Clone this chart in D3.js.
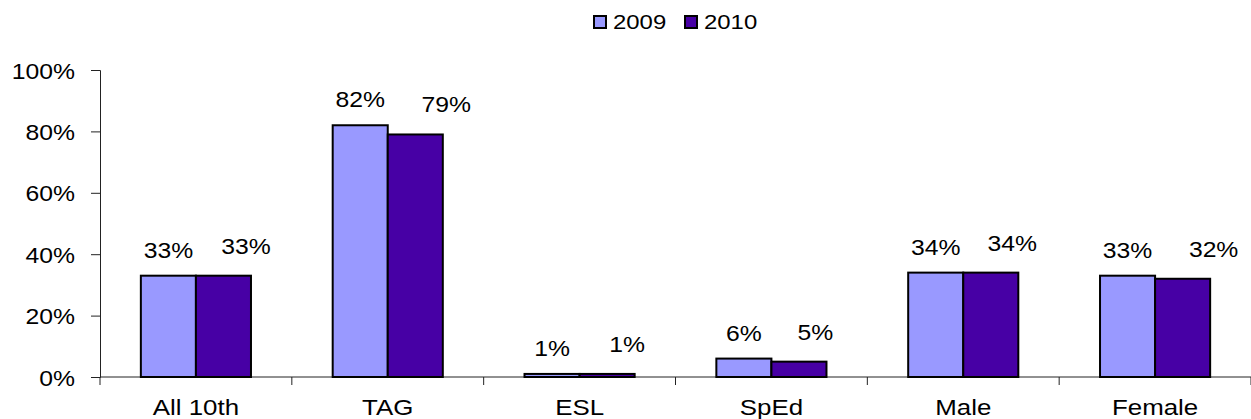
<!DOCTYPE html>
<html>
<head>
<meta charset="utf-8">
<script src="https://cdn.jsdelivr.net/npm/d3@7"></script>
<style>
  body { margin: 0; background: #fff; }
  svg text { font-family: "Liberation Sans", Arial, sans-serif; fill: #000; }
</style>
</head>
<body>
<svg id="chart" width="1251" height="419"></svg>
<script>
var categories = ["All 10th", "TAG", "ESL", "SpEd", "Male", "Female"];
var seriesNames = ["2009", "2010"];
var values2009 = [0.33, 0.82, 0.01, 0.06, 0.34, 0.33];
var values2010 = [0.33, 0.79, 0.01, 0.05, 0.34, 0.32];
var yTicks = [0, 0.2, 0.4, 0.6, 0.8, 1.0];

// hand nudges of the 2010 value labels in the original (px to the right)
var nudge2010 = [22.5, 31, 20, 16.5, 21.5, 31];

var colors = {"2009": "#9999ff", "2010": "#4700a5"};
var sx = 1.15; // the original text is stretched sideways

var svg = d3.select("#chart");

var x0 = d3.scaleBand()
    .domain(categories)
    .range([100, 1251])
    .padding(0);

var x1 = d3.scaleBand()
    .domain(seriesNames)
    .range([0, x0.bandwidth()])
    .paddingInner(0)
    .paddingOuter(0.742);

var y = d3.scaleLinear()
    .domain([0, 1])
    .range([377, 70]);

var rows = categories.map(function(c, i) {
  return {cat: c, i: i, vals: [
    {s: "2009", v: values2009[i]},
    {s: "2010", v: values2010[i]}
  ]};
});

// y axis
var yAxis = d3.axisLeft(y)
    .tickValues(yTicks)
    .tickSize(9)
    .tickPadding(0)
    .tickFormat(d3.format(".0%"));

var gy = svg.append("g")
    .attr("transform", "translate(100,0)")
    .call(yAxis);
gy.select(".domain").attr("stroke", "#222").attr("stroke-width", 1);
gy.selectAll(".tick line").attr("stroke", "#222");
gy.selectAll(".tick text")
    .attr("x", null)
    .attr("dy", null)
    .attr("font-size", 21.5)
    .attr("text-anchor", "end")
    .attr("transform", "translate(-25,8) scale(" + sx + ",1)");

// x axis
var gx = svg.append("g")
    .attr("transform", "translate(0,377)");
gx.append("line")
    .attr("x1", 100).attr("x2", 1251)
    .attr("y1", 0).attr("y2", 0)
    .attr("stroke", "#222");
gx.selectAll("line.tk")
    .data(categories.concat(["_end"]))
    .enter()
    .append("line")
    .attr("class", "tk")
    .attr("x1", function(d, i) { return x0.range()[0] + i * x0.step(); })
    .attr("x2", function(d, i) { return x0.range()[0] + i * x0.step(); })
    .attr("y1", 0).attr("y2", 8)
    .attr("stroke", "#222");
gx.selectAll("text")
    .data(categories)
    .enter()
    .append("text")
    .text(function(d) { return d; })
    .attr("font-size", 22.5)
    .attr("text-anchor", "middle")
    .attr("transform", function(d) {
      return "translate(" + (x0(d) + x0.bandwidth() / 2) + ",38) scale(" + sx + ",1)";
    });

// bars
var groups = svg.selectAll("g.cat")
    .data(rows)
    .enter()
    .append("g")
    .attr("class", "cat")
    .attr("transform", function(d) { return "translate(" + x0(d.cat) + ",0)"; });

groups.selectAll("rect")
    .data(function(d) { return d.vals; })
    .enter()
    .append("rect")
    .attr("x", function(d) { return x1(d.s); })
    .attr("y", function(d) { return y(d.v); })
    .attr("width", x1.bandwidth())
    .attr("height", function(d) { return y(0) - y(d.v); })
    .attr("fill", function(d) { return colors[d.s]; })
    .attr("stroke", "#000")
    .attr("stroke-width", 2);

// value labels
groups.selectAll("text")
    .data(function(d) { return d.vals.map(function(v) { return {s: v.s, v: v.v, i: d.i}; }); })
    .enter()
    .append("text")
    .text(function(d) { return d3.format(".0%")(d.v); })
    .attr("font-size", 21.5)
    .attr("text-anchor", "middle")
    .attr("transform", function(d) {
      var cx = x1(d.s) + x1.bandwidth() / 2;
      var ty = y(d.v) - 18;
      if (d.s == "2010") {
        cx += nudge2010[d.i];
        ty = y(d.v) - 22;
      }
      return "translate(" + cx + "," + ty + ") scale(" + sx + ",1)";
    });

// legend
var legend = svg.append("g");
var legX = [593, 684];
seriesNames.forEach(function(s, i) {
  legend.append("rect")
      .attr("x", legX[i] + 1).attr("y", 16)
      .attr("width", 12).attr("height", 12)
      .attr("fill", colors[s])
      .attr("stroke", "#000")
      .attr("stroke-width", 2);
  legend.append("text")
      .text(s)
      .attr("font-size", 21)
      .attr("transform", "translate(" + (legX[i] + 20) + ",29) scale(1.14,1)");
});
</script>
</body>
</html>
